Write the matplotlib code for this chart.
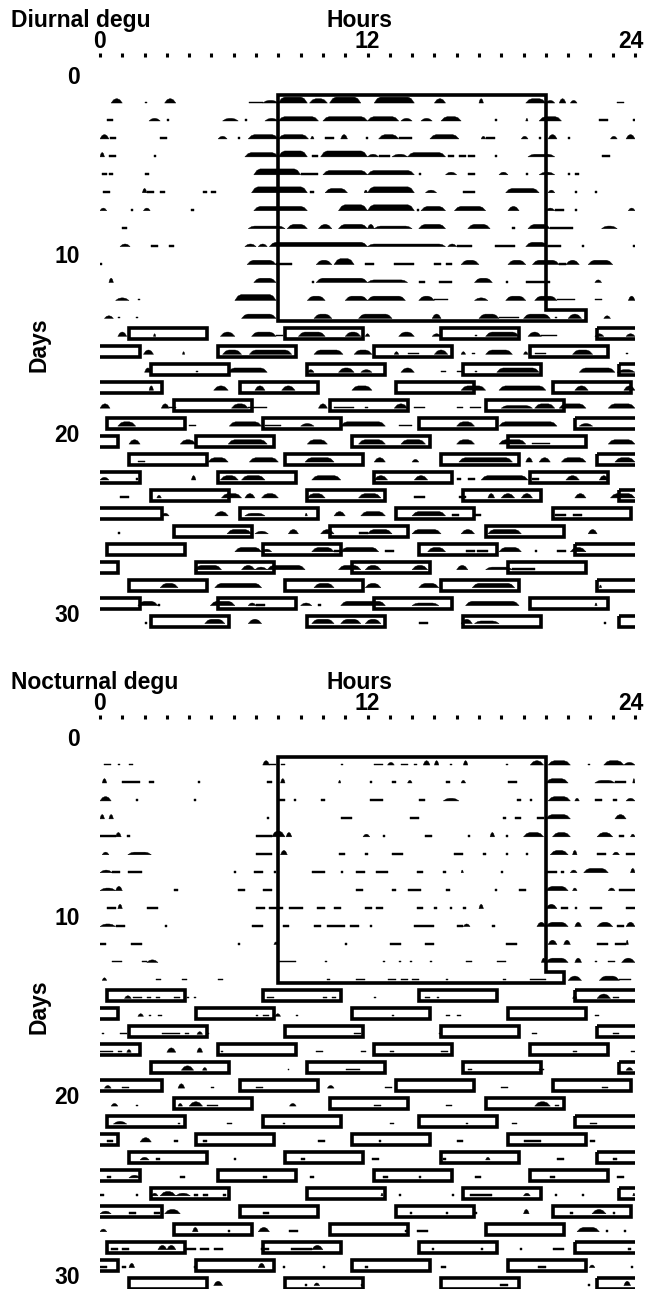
import matplotlib
matplotlib.use("Agg")
import matplotlib.pyplot as plt
from matplotlib.collections import PolyCollection
from matplotlib.patches import Rectangle, Polygon

W, H, DPI = 649, 1289, 100

# ---------------- data ----------------
hour_ticks = list(range(25))
hour_tick_labels = ["0", "12", "24"]
hour_tick_label_pos = [0, 12, 24]
day_tick_labels = [0, 10, 20, 30]

panel_titles = ["Diurnal degu", "Nocturnal degu"]

ld_on, ld_off = 8.0, 20.0
ld_first_day, ld_last_day = 1, 13
ld_last_day_extension_end = [21.8, 20.8]   # diurnal, nocturnal
t_light_duration = 3.5
t_first_day = 14

diurnal_light_onsets = [
    [1.3, 8.3, 15.3, 22.3], [-1.7, 5.3, 12.3, 19.3], [2.3, 9.3, 16.3, 23.3],
    [-0.7, 6.3, 13.3, 20.3], [3.3, 10.3, 17.3], [0.3, 7.3, 14.3, 21.3],
    [-2.7, 4.3, 11.3, 18.3], [1.3, 8.3, 15.3, 22.3], [-1.7, 5.3, 12.3, 19.3],
    [2.3, 9.3, 16.3, 23.3], [-0.7, 6.3, 13.3, 20.3], [3.3, 10.3, 17.3],
    [0.3, 7.3, 14.3, 21.3], [-2.7, 4.3, 11.3, 18.3], [1.3, 8.3, 15.3, 22.3],
    [-1.7, 5.3, 12.3, 19.3], [2.3, 9.3, 16.3, 23.3]]

nocturnal_light_onsets = [
    [0.3, 7.3, 14.3, 21.3], [-2.7, 4.3, 11.3, 18.3], [1.3, 8.3, 15.3, 22.3],
    [-1.7, 5.3, 12.3, 19.3], [2.3, 9.3, 16.3, 23.3], [-0.7, 6.3, 13.3, 20.3],
    [3.3, 10.3, 17.3], [0.3, 7.3, 14.3, 21.3], [-2.7, 4.3, 11.3, 18.3],
    [1.3, 8.3, 15.3, 22.3], [-1.7, 5.3, 12.3, 19.3], [2.3, 9.3, 16.3, 23.3],
    [-0.7, 6.3, 13.3, 20.3], [3.3, 10.3, 17.3], [0.3, 7.3, 14.3, 21.3],
    [-2.7, 4.3, 11.3, 18.3], [1.3, 8.3, 15.3, 22.3]]

# activity bouts per day (days 1..30): (start hour, end hour, level 1-4)
diurnal_activity = [
    [(0.5,1.0,3),(2.0,2.1,1),(2.9,3.4,3),(6.7,7.3,1),(7.3,8.0,2),(8.0,9.3,4),(9.4,10.2,3),(10.3,11.7,4),(12.3,14.1,4),(15.0,15.5,3),(17.0,17.2,3),(19.1,20.0,3),(20.0,20.4,2),(20.6,20.9,3),(21.1,21.4,2),(23.2,23.5,1)],
    [(0.3,0.6,1),(2.2,2.7,2),(3.0,3.1,1),(5.5,6.2,2),(6.5,6.6,1),(7.4,8.0,2),(8.0,9.8,3),(10.0,12.0,3),(12.0,13.4,3),(13.5,14.0,2),(14.4,14.9,2),(15.3,16.2,3),(17.7,17.8,1),(19.1,19.2,2),(19.7,20.7,3),(22.4,22.8,1),(23.9,24.0,1)],
    [(0.0,0.4,3),(0.45,0.7,1),(2.7,3.0,1),(5.3,5.7,2),(6.2,6.3,1),(6.65,8.0,3),(8.0,9.35,3),(9.45,9.6,2),(10.1,10.5,1),(10.8,11.1,3),(11.95,12.0,1),(12.5,13.4,3),(13.4,14.0,1),(14.8,16.1,3),(17.1,17.3,2),(17.3,17.7,1),(18.9,19.2,2),(19.7,19.8,1),(20.1,20.5,3),(21.0,21.1,1),(22.9,23.2,2),(23.6,24.0,3)],
    [(0.0,0.2,3),(0.4,0.7,1),(2.4,2.5,1),(6.5,8.0,3),(8.0,9.3,4),(9.5,9.8,1),(9.9,12.0,4),(12.0,12.5,2),(12.5,13.0,1),(13.1,13.8,2),(13.8,15.5,3),(15.6,15.9,1),(16.1,16.4,1),(16.5,16.8,1),(17.7,17.8,1),(19.2,20.4,2),(22.5,22.9,1)],
    [(0.1,0.3,1),(0.4,0.6,1),(2.0,2.2,1),(6.9,9.0,4),(9.0,9.8,1),(10.0,12.0,3),(12.0,14.1,3),(14.3,14.4,1),(15.5,16.0,2),(16.5,16.8,1),(17.9,18.3,2),(19.1,19.2,1),(19.7,20.4,2),(21.0,21.1,1),(21.3,21.5,1)],
    [(0.15,0.45,1),(1.9,2.1,3),(2.1,2.4,1),(2.7,2.9,1),(4.6,4.8,1),(5.0,5.2,1),(6.8,9.3,4),(9.4,9.6,1),(10.1,11.1,3),(11.85,12.0,2),(12.0,14.1,4),(14.6,15.1,2),(16.3,16.8,1),(18.2,19.7,3),(20.1,20.4,2),(21.3,21.4,1),(22.2,22.3,1)],
    [(0.0,0.3,2),(1.4,1.5,1),(1.95,2.25,2),(4.1,4.2,1),(6.9,9.3,3),(10.7,12.0,4),(12.0,14.1,4),(14.2,14.3,1),(14.4,15.5,3),(15.9,17.3,3),(18.3,18.8,3),(20.0,20.4,2),(20.4,20.8,1),(21.3,21.4,1),(23.7,24.0,2)],
    [(1.0,1.2,1),(6.65,8.3,2),(8.4,9.3,3),(9.8,10.4,3),(10.7,12.0,3),(12.0,12.3,3),(12.3,14.0,2),(14.3,15.5,3),(16.5,17.5,3),(18.5,18.6,1),(19.2,20.2,3),(20.2,21.2,1),(22.5,23.2,2)],
    [(0.9,1.35,2),(2.3,2.6,1),(3.1,3.3,1),(6.5,7.0,2),(7.1,7.5,2),(7.6,12.0,3),(12.0,15.5,2),(15.6,16.0,2),(16.0,16.7,1),(17.7,18.6,1),(19.1,20.1,3),(20.1,20.7,1),(21.6,21.7,1),(23.9,24.0,1)],
    [(0.0,0.1,1),(6.6,7.9,3),(7.9,8.6,1),(9.7,10.4,3),(10.5,11.4,4),(11.9,12.3,1),(13.2,14.1,1),(15.0,15.3,1),(15.5,15.8,1),(16.2,17.0,3),(18.3,19.1,3),(19.4,20.6,3),(20.6,20.9,1),(20.9,21.5,3),(21.9,23.0,3)],
    [(0.4,0.6,3),(6.9,7.9,3),(9.5,9.6,1),(9.7,12.0,3),(12.0,13.8,2),(14.3,14.6,1),(15.2,15.8,1),(16.8,17.6,3),(18.2,18.3,1),(19.1,20.2,1),(22.2,22.5,2)],
    [(0.7,1.3,2),(1.7,1.8,1),(6.05,7.9,4),(9.3,10.1,3),(11.0,12.0,3),(12.0,13.7,3),(14.3,15.0,3),(15.0,15.6,1),(16.8,17.4,2),(18.2,19.1,3),(19.5,20.5,3),(20.5,21.3,1),(22.2,22.5,1),(23.7,24.0,3)],
    [(0.2,0.6,2),(0.8,0.9,1),(1.6,1.7,1),(6.35,7.9,3),(9.6,10.4,3),(11.6,13.1,3),(14.9,15.3,3),(17.0,17.9,3),(17.9,18.8,1),(19.0,20.2,3),(20.4,20.5,1),(21.0,21.6,3),(22.6,22.9,2)],
    [(0.8,1.2,3),(2.4,2.5,2),(5.4,6.05,3),(6.8,7.9,3),(7.9,8.2,1),(8.9,10.1,3),(11.0,11.7,3),(11.9,12.1,2),(13.4,14.1,3),(14.9,15.3,2),(16.8,16.9,1),(17.3,18.8,3),(19.2,19.8,3),(19.8,20.5,1),(22.2,22.6,2),(23.6,24.0,2)],
    [(1.95,2.4,3),(3.7,3.8,2),(5.5,6.35,3),(6.7,8.6,3),(9.6,10.9,3),(11.4,12.2,3),(13.2,13.4,2),(13.8,14.3,1),(15.0,15.6,3),(16.2,16.4,2),(16.7,16.8,1),(17.3,18.5,3),(19.0,19.2,2),(19.5,20.0,1),(21.2,22.1,3),(23.6,23.7,1)],
    [(2.0,2.3,3),(4.3,4.4,1),(5.75,7.5,3),(9.3,9.6,2),(10.7,11.4,3),(11.7,12.2,2),(13.5,14.1,3),(15.3,15.5,1),(16.0,16.3,1),(16.8,16.9,1),(17.8,19.7,3),(21.5,23.1,3),(23.2,24.0,2)],
    [(2.2,2.4,3),(5.1,5.75,3),(6.95,7.4,3),(8.15,8.75,3),(11.3,12.2,3),(16.2,17.3,3),(17.9,20.0,3),(21.3,21.9,3),(23.5,24.0,3)],
    [(0.0,0.45,3),(2.75,3.1,3),(3.1,3.4,1),(5.9,6.65,3),(6.65,7.5,1),(9.8,10.2,3),(10.5,11.4,1),(11.9,12.0,1),(13.2,13.8,3),(14.1,14.6,1),(16.0,16.3,1),(16.6,17.1,1),(18.0,19.4,2),(19.5,20.4,3),(20.6,21.8,3),(22.8,24.0,3)],
    [(0.8,1.6,3),(4.0,4.3,1),(5.8,7.25,3),(7.4,8.1,1),(9.0,9.6,2),(10.8,12.8,3),(13.4,14.0,1),(16.0,16.8,3),(17.9,20.5,3),(21.5,22.1,2)],
    [(1.3,1.8,3),(3.6,4.3,3),(5.75,7.5,3),(9.3,10.2,3),(11.6,12.8,3),(13.5,14.6,3),(16.0,16.8,3),(17.9,19.1,3),(19.4,20.2,1),(22.8,24.0,3)],
    [(1.7,2.0,1),(4.85,5.75,3),(6.7,8.0,3),(9.2,10.5,3),(12.3,12.8,3),(14.0,14.3,2),(16.1,18.5,3),(19.1,19.4,3),(19.7,20.2,3),(20.7,21.8,3),(23.1,24.0,3)],
    [(0.0,0.4,2),(1.6,1.7,1),(4.1,4.3,3),(5.4,6.2,3),(6.35,7.4,3),(9.5,10.8,3),(12.3,12.9,3),(14.1,14.7,3),(16.0,16.2,1),(16.5,16.8,1),(17.1,19.2,3),(19.4,19.7,1),(20.9,21.5,3),(22.4,22.8,3)],
    [(0.9,1.3,1),(2.55,2.75,2),(5.45,6.35,3),(6.5,6.95,3),(7.25,8.0,3),(9.3,10.1,3),(11.6,12.6,3),(14.1,14.6,1),(16.1,16.4,1),(17.4,17.7,3),(18.0,18.6,3),(18.9,19.4,3),(21.3,21.8,3),(22.9,24.0,3)],
    [(2.75,3.1,2),(5.15,5.75,3),(6.5,7.4,2),(9.2,9.3,2),(10.5,11.0,3),(11.7,12.8,3),(14.0,15.5,3),(15.8,16.1,1),(16.8,17.1,1),(20.4,20.9,1),(21.2,21.6,1)],
    [(0.8,0.9,1),(5.7,6.8,3),(6.95,7.55,2),(8.45,8.9,3),(9.9,10.5,3),(11.6,12.0,1),(12.0,13.1,3),(14.0,15.3,3),(16.2,16.8,3),(17.4,18.9,3),(21.9,22.3,3)],
    [(6.05,7.25,3),(7.25,7.7,2),(9.5,10.5,3),(10.5,10.8,1),(10.8,12.5,3),(12.8,13.2,1),(14.7,15.5,3),(16.4,16.8,1),(16.9,17.4,1),(17.9,18.9,3),(19.5,19.6,1),(20.5,20.9,1),(21.1,21.8,3)],
    [(4.25,5.45,3),(6.35,6.95,3),(6.95,7.5,2),(7.5,9.2,3),(10.7,11.7,3),(11.9,12.6,3),(14.0,14.7,3),(16.0,16.5,3),(17.3,18.5,2),(18.5,19.5,1)],
    [(2.7,3.5,3),(5.15,7.25,3),(9.6,10.5,3),(11.9,12.6,3),(14.3,15.2,3),(16.7,18.6,3),(22.4,22.5,2)],
    [(1.7,2.6,3),(2.6,2.7,1),(4.95,6.05,3),(6.65,7.0,2),(7.0,7.4,1),(9.0,9.5,2),(9.8,9.9,1),(10.8,12.8,3),(14.0,15.2,2),(16.4,18.8,3),(22.2,22.3,2)],
    [(2.0,2.1,1),(4.7,5.6,3),(6.65,7.25,3),(9.5,10.5,3),(10.8,11.7,3),(11.9,12.6,3),(14.3,14.7,1),(16.2,16.7,3),(16.8,17.9,2),(22.6,22.7,1)],
]

nocturnal_activity = [
    [(0.2,0.5,1),(0.8,0.9,1),(1.3,1.5,1),(7.3,7.6,3),(7.6,7.9,1),(8.1,8.3,1),(10.8,10.9,1),(12.3,12.7,1),(12.9,13.2,2),(13.5,13.8,1),(14.1,14.2,1),(14.5,14.8,3),(15.0,15.2,3),(15.7,15.8,1),(16.3,16.5,3),(18.2,18.3,1),(19.3,19.9,3),(20.1,21.1,3),(21.9,22.0,1),(22.6,23.5,3),(23.5,24.0,2)],
    [(0.1,0.3,3),(1.0,1.8,1),(2.2,2.4,1),(4.4,4.5,1),(7.5,7.7,1),(8.1,8.3,3),(10.7,10.8,2),(12.1,12.2,1),(13.1,13.3,1),(13.8,14.0,2),(15.5,15.7,1),(16.2,16.4,2),(18.3,18.7,1),(20.0,21.0,3),(22.2,23.1,2),(23.1,23.6,1),(23.9,24.0,3)],
    [(0.0,0.5,3),(1.6,1.7,1),(4.2,4.3,1),(8.0,8.3,1),(8.7,8.8,1),(9.9,10.1,1),(12.1,12.7,1),(14.3,14.6,1),(15.4,16.1,2),(18.7,18.9,1),(19.3,19.4,1),(20.1,21.1,3),(21.3,21.5,2),(22.2,22.5,1),(23.0,23.2,1),(23.6,24.0,2)],
    [(0.0,0.2,3),(0.4,0.6,3),(7.5,7.6,1),(10.8,11.3,1),(13.9,14.3,1),(18.1,18.2,1),(18.6,18.9,1),(19.6,19.9,1),(20.0,21.1,3),(23.1,23.6,3)],
    [(0.0,0.7,1),(0.7,0.95,3),(1.2,1.35,1),(7.0,7.7,1),(7.7,8.3,4),(8.35,8.6,3),(11.8,12.1,2),(12.7,12.8,1),(14.6,14.9,1),(16.5,16.6,1),(17.5,17.7,3),(18.2,18.3,1),(19.0,19.9,3),(20.3,21.1,3),(22.3,23.0,3),(23.3,23.5,1),(23.8,24.0,2)],
    [(0.1,0.4,2),(1.25,2.3,2),(7.0,7.7,1),(8.1,8.4,3),(10.7,11.0,1),(11.9,12.0,1),(13.1,13.6,1),(15.9,16.3,1),(17.2,17.3,1),(18.2,18.3,1),(19.1,19.2,1),(20.2,21.0,3),(21.2,21.4,3),(22.3,22.7,1),(23.0,23.3,2),(23.6,24.0,1)],
    [(0.0,0.55,2),(0.55,0.9,1),(1.25,1.9,1),(6.0,6.1,1),(6.9,7.3,1),(7.8,7.9,1),(9.5,10.1,1),(10.8,10.9,1),(11.5,11.9,1),(12.4,12.9,1),(14.2,14.5,1),(15.4,15.5,1),(16.2,16.3,2),(18.0,18.1,1),(20.0,20.5,1),(20.7,20.8,1),(21.1,21.4,2),(21.7,22.8,3),(23.8,24.0,3)],
    [(0.0,0.7,2),(0.7,1.0,3),(3.3,3.5,1),(6.2,6.5,1),(7.3,7.7,1),(11.5,11.8,1),(13.1,13.3,1),(13.8,14.4,1),(15.5,15.7,1),(17.7,17.8,1),(18.8,19.1,1),(20.0,21.0,3),(21.2,21.4,2),(22.8,23.1,2),(23.3,24.0,1)],
    [(0.3,0.7,1),(0.8,1.0,3),(2.1,2.6,1),(7.0,7.4,1),(7.6,8.2,1),(8.5,9.1,1),(9.75,10.1,1),(10.5,10.8,1),(11.9,12.2,1),(12.4,12.7,1),(14.2,14.5,1),(15.0,15.1,1),(15.7,15.8,1),(16.3,16.4,1),(17.0,17.2,3),(20.0,20.5,3),(20.7,21.0,1),(21.3,21.4,1),(22.0,22.5,1),(23.6,24.0,1)],
    [(0.0,0.7,2),(0.7,1.1,1),(2.9,3.0,1),(6.8,7.3,1),(8.2,8.5,1),(9.6,9.9,1),(10.2,11.0,1),(11.2,11.6,1),(12.1,12.2,1),(14.1,15.0,1),(16.0,16.3,1),(16.3,16.6,2),(17.6,17.7,1),(19.6,20.0,3),(20.0,21.0,3),(21.3,21.6,3),(22.3,23.0,3),(23.2,23.5,1),(23.6,24.0,3)],
    [(0.0,0.25,1),(1.4,1.9,1),(6.2,6.3,1),(7.8,8.0,2),(11.0,11.1,1),(13.0,13.5,1),(14.6,15.0,1),(18.2,18.7,1),(20.1,20.5,3),(20.8,21.1,3),(22.3,22.8,1),(23.1,23.6,1),(23.6,23.7,3)],
    [(0.55,1.0,1),(1.9,2.1,1),(2.1,2.6,2),(8.0,8.8,1),(10.1,10.2,1),(12.7,12.8,1),(13.4,13.5,1),(13.9,14.0,1),(14.8,14.9,1),(16.4,16.7,1),(17.8,18.2,1),(19.8,20.0,3),(20.0,21.0,3),(21.3,21.6,3),(22.2,22.3,1),(22.8,23.1,1),(23.4,24.0,3)],
    [(0.1,0.3,2),(2.5,2.75,1),(3.7,3.9,1),(5.3,5.5,1),(10.2,10.3,1),(11.5,11.9,1),(12.9,13.3,1),(13.5,13.8,1),(14.0,14.3,1),(15.5,15.6,1),(18.1,18.2,1),(19.3,20.0,1),(21.0,21.6,3),(22.4,23.3,3),(23.3,23.8,1)],
    [(1.1,1.4,2),(1.5,1.9,1),(2.1,2.3,1),(2.5,2.7,1),(3.3,3.6,1),(3.9,4.0,1),(4.2,4.3,1),(7.5,7.8,1),(10.0,10.2,1),(10.4,10.6,1),(12.3,12.4,1),(14.6,14.8,1),(15.1,15.2,1),(21.2,21.4,2),(22.3,22.9,3),(23.0,23.3,1)],
    [(1.7,1.95,2),(2.2,2.3,1),(2.6,2.8,1),(7.0,7.1,1),(7.3,7.6,1),(7.85,8.1,2),(8.8,8.9,1),(13.1,13.2,1),(15.5,15.7,1),(16.0,16.2,1),(22.2,22.4,1)],
    [(0.1,0.2,1),(0.9,1.2,1),(2.8,3.6,1),(3.8,4.0,1),(4.35,4.6,2),(4.8,4.9,1),(11.4,11.7,1),(15.2,15.3,1),(19.4,19.6,1),(23.0,23.3,1)],
    [(0.0,0.6,1),(0.8,1.0,1),(1.2,1.4,2),(3.0,3.4,3),(4.35,4.6,3),(5.45,5.5,1),(9.7,10.0,1),(11.7,11.95,1),(13.0,13.2,1),(15.3,15.6,1),(21.2,21.4,1),(23.8,24.0,1)],
    [(3.65,4.2,3),(4.6,4.8,2),(8.45,8.5,1),(11.05,11.65,1),(16.5,16.7,1),(19.7,19.9,1),(23.6,23.9,2)],
    [(0.2,0.5,2),(1.0,1.3,1),(3.5,3.8,3),(5.0,5.1,1),(7.0,7.3,1),(10.2,10.5,2),(12.8,13.1,1),(18.0,18.3,1),(22.5,22.8,1)],
    [(0.5,0.8,2),(1.6,1.7,1),(3.5,3.7,2),(4.0,4.6,3),(4.8,5.3,1),(8.5,8.8,2),(12.3,12.6,1),(15.5,15.8,1),(19.5,20.2,3),(20.4,20.6,1)],
    [(0.6,1.2,2),(3.5,3.6,1),(5.7,5.9,1),(8.2,8.3,1),(13.0,13.2,1),(16.4,16.5,1),(18.5,18.7,1),(22.0,22.3,1)],
    [(0.3,0.6,1),(1.8,2.3,3),(3.3,3.5,1),(4.6,4.8,1),(9.8,10.1,1),(12.5,12.6,1),(16.0,16.3,1),(19.0,19.8,1),(22.0,22.2,1)],
    [(1.8,2.2,2),(2.5,2.7,1),(6.0,6.1,1),(9.0,9.2,1),(12.2,12.5,1),(15.4,15.5,1),(17.3,17.5,2),(20.5,20.8,1),(23.0,23.2,1)],
    [(0.3,0.5,1),(1.3,1.8,2),(3.6,3.8,1),(7.3,7.5,1),(9.4,9.6,1),(12.7,12.9,1),(14.3,14.4,1),(16.8,17.1,1),(20.2,20.4,1),(23.2,23.5,1)],
    [(0.0,0.2,1),(1.6,1.7,1),(2.3,2.6,2),(2.7,3.4,3),(3.4,4.05,2),(4.2,4.4,1),(4.6,4.85,1),(5.5,5.65,1),(12.6,12.7,2),(13.4,13.5,1),(15.8,15.9,1),(16.6,17.6,1),(19.0,19.3,2),(20.4,20.5,1),(21.6,21.7,1),(23.9,24.0,2)],
    [(0.0,0.5,2),(1.3,1.6,1),(2.4,2.7,1),(2.9,3.6,3),(7.3,7.6,1),(13.9,14.0,1),(15.5,15.6,1),(16.8,16.9,1),(19.0,19.25,3),(21.1,21.2,1),(22.07,22.7,3),(23.0,23.1,1)],
    [(0.0,0.3,2),(4.15,4.4,3),(5.75,5.85,1),(7.1,7.6,3),(8.5,8.9,1),(13.7,13.8,1),(14.2,14.7,1),(21.4,22.4,3),(22.7,22.8,1),(23.5,23.6,1)],
    [(0.5,0.8,1),(1.0,1.3,1),(2.6,3.0,3),(3.0,3.4,3),(3.8,4.3,1),(4.5,4.9,1),(5.1,5.5,1),(7.2,7.6,1),(8.55,9.5,1),(9.5,10.0,3),(14.9,15.0,1),(17.1,17.2,1),(18.85,18.95,1),(20.3,20.8,1),(23.7,23.8,1)],
    [(0.0,0.3,1),(1.0,1.15,1),(1.3,1.55,3),(4.2,4.3,1),(7.1,7.4,3),(8.2,8.3,1),(10.0,10.1,1),(11.9,12.0,1),(15.3,15.5,1),(19.65,20.0,1),(21.95,22.2,2),(23.8,23.9,1)],
    [(5.1,5.5,3),(9.2,9.3,1),(9.6,9.85,2),(11.7,11.8,1),(17.95,18.3,1),(21.9,22.0,1),(23.5,23.8,3)],
]

level_height_px = [0.0, 1.5, 2.6, 4.3, 5.9]

# ---------------- layout ----------------
plt.rcParams['font.family'] = ['Liberation Sans', 'DejaVu Sans']
fig = plt.figure(figsize=(W / DPI, H / DPI), dpi=DPI)

PX_PER_DAY = 17.95
X0, X1 = 100, 635
FS = 16.5


def fx(x):
    return x / W


def fy(y):
    return 1 - y / H


def draw_panel(offset, title, activity, onsets, ext_end, y_bottom):
    label0_px = 77 + offset
    tick_px = 57 + offset
    y_top = (tick_px - label0_px) / PX_PER_DAY
    bottom_px = label0_px + PX_PER_DAY * y_bottom
    ax = fig.add_axes([fx(X0), fy(bottom_px), (X1 - X0) / W, (bottom_px - tick_px) / H])
    ax.set_xlim(0, 24)
    ax.set_ylim(y_bottom, y_top)
    for s in ax.spines.values():
        s.set_visible(False)
    ax.set_yticks([])
    ax.set_xticks(hour_ticks)
    ax.set_xticklabels([])
    ax.tick_params(axis='x', which='both', top=True, bottom=False, labeltop=False,
                   labelbottom=False, direction='out', length=3, width=2.2, color='black')
    ax.patch.set_alpha(0)

    # text elements
    fig.text(fx(11), fy(27 + offset), title, fontsize=FS, fontweight='bold',
             ha='left', va='baseline')
    fig.text(fx(360), fy(27 + offset), "Hours", fontsize=FS, fontweight='bold',
             ha='center', va='baseline')
    for lab, pos in zip(hour_tick_labels, hour_tick_label_pos):
        xp = X0 + pos * (X1 - X0) / 24
        if pos == 24:
            xp -= 4
        fig.text(fx(xp), fy(48 + offset), lab, fontsize=FS, fontweight='bold',
                 ha='center', va='baseline')
    for d in day_tick_labels:
        fig.text(fx(80), fy(label0_px + d * PX_PER_DAY), str(d), fontsize=FS,
                 fontweight='bold', ha='right', va='center')
    fig.text(fx(39), fy(345 + offset), "Days", fontsize=FS, fontweight='bold',
             rotation=90, ha='center', va='center')

    # light boxes
    lw = 2.6
    box_top_off, box_bot_off = 0.0, 0.62
    ld_poly = [(ld_on, ld_first_day + box_top_off), (ld_off, ld_first_day + box_top_off),
               (ld_off, ld_last_day + box_top_off), (ext_end, ld_last_day + box_top_off),
               (ext_end, ld_last_day + box_bot_off), (ld_on, ld_last_day + box_bot_off)]
    ax.add_patch(Polygon(ld_poly, closed=True, fill=False, edgecolor='black',
                         linewidth=lw, joinstyle='miter', zorder=3))
    for i, row in enumerate(onsets):
        d = t_first_day + i
        for on in row:
            ax.add_patch(Rectangle((on, d + box_top_off), t_light_duration,
                                   box_bot_off - box_top_off, fill=False,
                                   edgecolor='black', linewidth=lw,
                                   joinstyle='miter', zorder=3))

    # activity
    polys = []
    for i, row in enumerate(activity):
        d = i + 1
        base = d + 0.45
        for (s, e, lev) in row:
            h = level_height_px[lev] / PX_PER_DAY
            w = e - s
            if lev <= 1:
                polys.append([(s, base), (e, base), (e, base - h), (s, base - h)])
            else:
                inset = min(0.22 * w, 0.14)
                polys.append([(s, base), (e, base),
                              (e - inset, base - h * 0.75), (e - 2 * inset, base - h),
                              (s + 2 * inset, base - h), (s + inset, base - h * 0.75)])
    pc = PolyCollection(polys, facecolors='black', edgecolors='black',
                        linewidths=0.3, zorder=2)
    ax.add_collection(pc)
    return ax


draw_panel(0, panel_titles[0], diurnal_activity, diurnal_light_onsets,
           ld_last_day_extension_end[0], 31.0)
draw_panel(662, panel_titles[1], nocturnal_activity, nocturnal_light_onsets,
           ld_last_day_extension_end[1], 30.64)

fig.savefig("out.png", dpi=DPI)
